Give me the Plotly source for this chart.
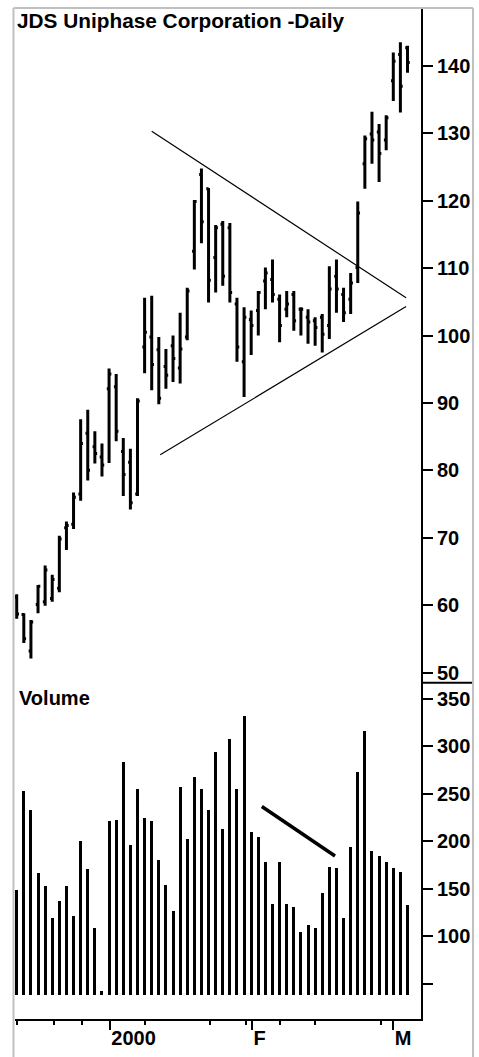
import plotly.graph_objects as go

# ---- data (bar index 0..55, daily bars mid-Dec 1999 to early Mar 2000) ----
opens = [61.2, 58.6, 53.2, 60.1, 60.5, 61.0, 62.5, 71.5, 72.0, 76.5,
         85.5, 83.5, 82.0, 92.1, 92.4, 82.8, 81.2, 76.5, 98.3, 99.8,
         97.9, 95.4, 98.5, 95.2, 99.8, 112.5, 123.9, 121.8, 111.6, 116.5,
         116.0, 104.7, 96.1, 102.4, 103.7, 108.1, 108.3, 105.4, 103.9, 106.1,
         103.9, 102.7, 102.2, 102.7, 101.5, 108.8, 106.1, 105.4, 110.1, 125.5,
         129.9, 130.2, 129.0, 137.8, 141.7, 142.7]
highs = [61.6, 58.8, 57.8, 63.0, 65.9, 64.5, 70.3, 72.4, 76.7, 87.6,
         89.0, 85.8, 84.0, 95.1, 94.3, 84.8, 83.2, 90.7, 105.6, 105.9,
         99.8, 98.0, 100.0, 103.4, 107.1, 120.1, 124.8, 121.9, 116.4, 117.0,
         116.7, 105.6, 104.2, 103.7, 106.6, 110.1, 111.3, 106.1, 106.6, 106.6,
         104.2, 103.9, 102.7, 103.2, 110.3, 111.3, 107.1, 109.3, 119.9, 129.7,
         133.2, 131.4, 132.7, 142.0, 143.5, 143.0]
lows = [58.0, 54.4, 52.1, 58.8, 59.9, 60.5, 61.9, 68.2, 71.3, 75.5,
        78.5, 81.0, 79.1, 81.1, 84.3, 76.2, 74.2, 76.2, 94.4, 91.9,
        89.8, 92.1, 93.1, 92.9, 99.3, 109.8, 113.7, 104.9, 106.4, 107.4,
        104.9, 96.1, 90.9, 97.1, 100.0, 103.9, 104.9, 99.0, 102.7, 100.7,
        100.0, 98.8, 98.5, 97.5, 99.5, 103.4, 102.0, 103.2, 107.8, 121.8,
        125.5, 122.8, 127.5, 134.8, 133.1, 139.0]
closes = [58.7, 55.0, 57.5, 62.8, 65.2, 63.8, 69.8, 71.8, 76.0, 84.0,
          80.0, 82.5, 80.8, 94.3, 85.8, 79.4, 75.2, 90.3, 100.5, 95.7,
          90.7, 94.1, 96.6, 98.0, 106.6, 119.9, 116.9, 108.2, 116.0, 108.8,
          106.4, 98.3, 102.7, 101.5, 106.4, 109.3, 106.1, 101.5, 104.7, 102.2,
          103.9, 102.0, 101.2, 100.2, 106.9, 106.9, 103.4, 107.8, 118.2, 129.2,
          129.0, 127.0, 132.3, 140.7, 137.0, 140.5]
volumes = [149, 253, 233, 167, 153, 120, 138, 153, 122, 201,
           171, 109, 43, 222, 223, 284, 197, 255, 225, 222,
           181, 154, 127, 258, 203, 268, 255, 233, 294, 213,
           308, 256, 332, 210, 205, 179, 135, 179, 135, 131,
           105, 112, 109, 146, 173, 172, 120, 194, 273, 317,
           190, 185, 179, 172, 168, 133]
volume_base = 38.5

price_ticks = [50, 60, 70, 80, 90, 100, 110, 120, 130, 140]
volume_ticks = [50, 100, 150, 200, 250, 300, 350]
volume_tick_labels = ["", "100", "150", "200", "250", "300", "350"]

month_tick_pos = [13.1, 33.1, 53.0]
month_tick_labels = ["2000", "F", "M"]
week_tick_pos = [0.1, 5.2, 9.2, 18.1, 27.2, 32.2, 37.1, 42.0, 51.2]

# trend lines (x in bar index, y in price / volume units)
upper_trend_x = [19.0, 54.8]
upper_trend_y = [130.3, 105.6]
lower_trend_x = [20.2, 54.8]
lower_trend_y = [82.3, 104.3]
vol_trend_x = [34.5, 44.8]
vol_trend_y = [236.8, 184.7]

x_idx = list(range(len(closes)))
FONT = "Liberation Sans, Arial, sans-serif"

fig = go.Figure()
fig.add_trace(go.Ohlc(
    x=x_idx, open=opens, high=highs, low=lows, close=closes,
    increasing_line_color="black", decreasing_line_color="black",
    line_width=3, tickwidth=0.32, xaxis="x", yaxis="y", showlegend=False,
))
fig.add_trace(go.Scatter(x=upper_trend_x, y=upper_trend_y, mode="lines",
                         line=dict(color="black", width=1.2), xaxis="x", yaxis="y",
                         showlegend=False))
fig.add_trace(go.Scatter(x=lower_trend_x, y=lower_trend_y, mode="lines",
                         line=dict(color="black", width=1.2), xaxis="x", yaxis="y",
                         showlegend=False))
fig.add_trace(go.Bar(
    x=x_idx, y=[v - volume_base for v in volumes], base=volume_base,
    width=0.42, marker=dict(color="black", line=dict(width=0)),
    xaxis="x2", yaxis="y2", showlegend=False,
))
fig.add_trace(go.Scatter(x=vol_trend_x, y=vol_trend_y, mode="lines",
                         line=dict(color="black", width=3.5), xaxis="x2", yaxis="y2",
                         showlegend=False))

split = 339 / 1019
xr = [-0.24, 56.9]
tickfont = dict(family=FONT, size=20, color="black", weight="bold")

fig.update_layout(
    width=479, height=1057,
    margin=dict(l=15, r=58, t=8, b=30),
    paper_bgcolor="white", plot_bgcolor="white",
    showlegend=False,
    bargap=0,
    title=dict(text="JDS Uniphase Corporation -Daily", x=17 / 479, xanchor="left",
               y=1 - 13 / 1057, yanchor="top",
               font=dict(family=FONT, size=20.8, color="black", weight="bold")),
    xaxis=dict(domain=[0, 1], range=xr, anchor="y", showticklabels=False,
               showgrid=False, zeroline=False, showline=False, ticks="",
               rangeslider=dict(visible=False)),
    yaxis=dict(domain=[split, 1], range=[48.5, 148.6], side="right", anchor="x",
               tickvals=price_ticks, ticks="outside", ticklen=10, tickwidth=2,
               tickcolor="black", showline=True, linecolor="black", linewidth=2,
               showgrid=False, zeroline=False, tickfont=tickfont),
    xaxis2=dict(domain=[0, 1], range=xr, anchor="y2", showgrid=False, zeroline=False,
                showline=True, linecolor="black", linewidth=1.5,
                tickvals=month_tick_pos, ticktext=month_tick_labels,
                ticks="outside", ticklen=9, tickwidth=1.5, tickcolor="black",
                ticklabelposition="outside right", tickfont=tickfont,
                minor=dict(tickvals=week_tick_pos, ticks="outside", ticklen=4,
                           tickwidth=1.5, tickcolor="black")),
    yaxis2=dict(domain=[0, split], range=[13.2, 367.0], side="right", anchor="x2",
                tickvals=volume_ticks, ticktext=volume_tick_labels,
                ticks="outside", ticklen=10, tickwidth=2, tickcolor="black",
                showline=True, linecolor="black", linewidth=2,
                showgrid=False, zeroline=False, tickfont=tickfont),
)

fig.add_annotation(text="Volume", xref="paper", yref="paper", x=0.005, y=split - 0.002,
                   xanchor="left", yanchor="top", showarrow=False,
                   font=dict(family=FONT, size=20, color="black", weight="bold"))

# separator between the two panes in the axis strip and grey frame
fig.add_shape(type="line", xref="paper", yref="paper", x0=1, x1=52 / 406 + 1,
              y0=split, y1=split, line=dict(color="black", width=2))
fig.add_shape(type="line", xref="paper", yref="paper", x0=-1.5 / 406, x1=-1.5 / 406,
              y0=-0.05, y1=1, line=dict(color="#c0c0c0", width=2))
fig.add_shape(type="line", xref="paper", yref="paper", x0=52 / 406 + 1, x1=52 / 406 + 1,
              y0=-0.05, y1=1, line=dict(color="#c0c0c0", width=2))
fig.add_shape(type="line", xref="paper", yref="paper", x0=-1.5 / 406, x1=52 / 406 + 1,
              y0=1, y1=1, line=dict(color="#c0c0c0", width=2))

fig.write_html("out.html",
               config={"displayModeBar": False},
               post_script="document.body.style.margin='0px';"
                           "document.body.style.overflow='hidden';")
